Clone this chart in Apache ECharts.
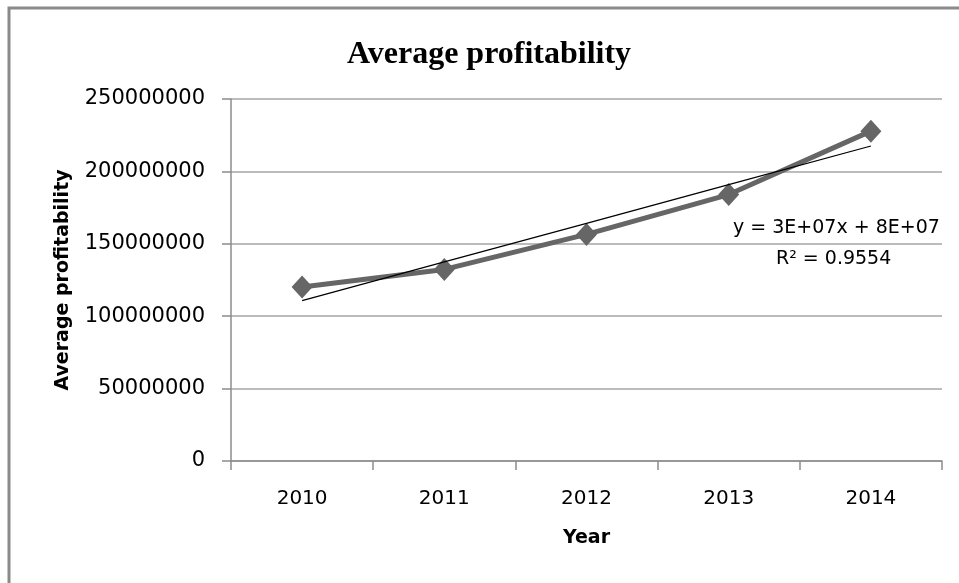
<!DOCTYPE html>
<html>
<head>
<meta charset="utf-8">
<script src="https://cdn.jsdelivr.net/npm/echarts@6/dist/echarts.min.js"></script>
<style>
  html, body { margin: 0; padding: 0; background: #ffffff; }
  #chart { width: 959px; height: 583px; }
</style>
</head>
<body>
<div id="chart"></div>
<script>
// Average profitability by year, with a linear trendline
const years = ['2010', '2011', '2012', '2013', '2014'];
const profitability = [120200000, 132300000, 156500000, 184000000, 227800000];
const yTicks = { min: 0, max: 250000000, interval: 50000000 };
const trendLabel = ['y = 3E+07x + 8E+07', 'R\u00B2 = 0.9554'];

// Least-squares linear fit over x = 1..n
function linearFit(values) {
  const n = values.length;
  const xs = values.map((_, i) => i + 1);
  const mx = xs.reduce((a, b) => a + b, 0) / n;
  const my = values.reduce((a, b) => a + b, 0) / n;
  let sxy = 0, sxx = 0;
  for (let i = 0; i < n; i++) {
    sxy += (xs[i] - mx) * (values[i] - my);
    sxx += (xs[i] - mx) * (xs[i] - mx);
  }
  const slope = sxy / sxx;
  const intercept = my - slope * mx;
  return xs.map(x => intercept + slope * x);
}
const trend = linearFit(profitability);

const FONT = 'DejaVu Sans';
const chart = echarts.init(document.getElementById('chart'), null, { renderer: 'canvas' });

chart.setOption({
  animation: false,
  backgroundColor: '#ffffff',
  title: {
    text: 'Average profitability',
    left: 342,
    top: 34,
    textStyle: { fontFamily: 'Liberation Serif', fontWeight: 'bold', fontSize: 32, color: '#000000' }
  },
  grid: { left: 231, top: 99, right: 17, bottom: 122 },
  xAxis: {
    type: 'category',
    data: years,
    boundaryGap: true,
    name: 'Year',
    nameLocation: 'middle',
    nameGap: 68,
    nameTextStyle: { fontFamily: FONT, fontWeight: 'bold', fontSize: 19, color: '#000000' },
    axisLine: { lineStyle: { color: '#8c8c8c', width: 1.5 } },
    axisTick: { show: true, interval: 0, length: 9, lineStyle: { color: '#8c8c8c', width: 1.5 } },
    axisLabel: { fontFamily: FONT, fontSize: 20, color: '#000000', margin: 28 },
    splitLine: { show: false }
  },
  yAxis: {
    type: 'value',
    min: yTicks.min,
    max: yTicks.max,
    interval: yTicks.interval,
    name: 'Average profitability',
    nameLocation: 'middle',
    nameGap: 158,
    nameTextStyle: { fontFamily: FONT, fontWeight: 'bold', fontSize: 19, color: '#000000' },
    axisLine: { show: true, lineStyle: { color: '#8c8c8c', width: 1.5 } },
    axisTick: { show: true, length: 9, lineStyle: { color: '#8c8c8c', width: 1.5 } },
    axisLabel: { fontFamily: FONT, fontSize: 21, color: '#000000', margin: 26, formatter: v => String(v) },
    splitLine: { show: true, lineStyle: { color: '#a6a6a6', width: 1.5 } }
  },
  series: [
    {
      name: 'Average profitability',
      type: 'line',
      data: profitability,
      symbol: 'diamond',
      symbolSize: [21, 23],
      lineStyle: { color: '#666666', width: 5 },
      itemStyle: { color: '#666666' },
      z: 2
    },
    {
      name: 'Linear trend',
      type: 'line',
      data: trend,
      symbol: 'none',
      lineStyle: { color: '#000000', width: 1.2 },
      z: 3
    }
  ],
  graphic: [
    {
      type: 'rect',
      shape: { x: 9, y: 8, width: 2000, height: 2000 },
      style: { fill: 'none', stroke: '#8a8a8a', lineWidth: 3 },
      silent: true
    },
    {
      type: 'text',
      left: 733,
      top: 219,
      style: { text: trendLabel[0], fontFamily: FONT, fontSize: 19, fill: '#000000' }
    },
    {
      type: 'text',
      left: 776,
      top: 250,
      style: { text: trendLabel[1], fontFamily: FONT, fontSize: 19, fill: '#000000' }
    }
  ]
});
</script>
</body>
</html>
